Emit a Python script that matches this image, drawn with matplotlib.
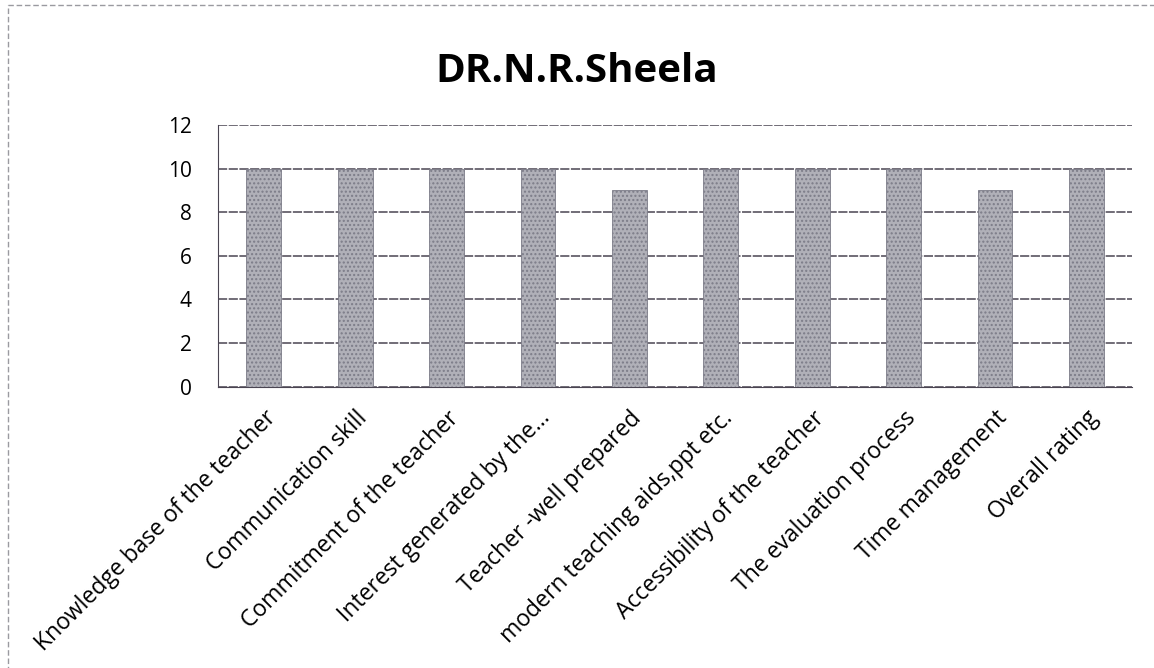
import matplotlib.pyplot as plt
import matplotlib.patches as mpatches
import numpy as np

plt.rcParams['font.family'] = ['Open Sans', 'DejaVu Sans']

categories = ["Knowledge base of the teacher", "Communication skill",
              "Commitment of the teacher", "Interest generated by the...",
              "Teacher -well prepared", "modern teaching aids,ppt etc.",
              "Accessibility of the teacher", "The evaluation process",
              "Time management", "Overall rating"]
scores = [10, 10, 10, 10, 9, 10, 10, 10, 9, 10]
yticks = [0, 2, 4, 6, 8, 10, 12]

fig = plt.figure(figsize=(11.54, 6.68), dpi=100)
ax = fig.add_axes([0.189, 0.421, 0.792, 0.392])

x = np.arange(len(categories))
ax.bar(x, scores, width=0.38, color="#b0b0b8", edgecolor="#7c7c88",
       hatch="....", linewidth=0.6, zorder=3)

ax.set_ylim(0, 12)
ax.set_xlim(-0.5, len(categories) - 0.5)
ax.set_yticks(yticks)
ax.set_yticklabels([str(v) for v in yticks], fontsize=15)
ax.yaxis.grid(True, color="#4a4552", linewidth=1.1, linestyle=(0, (6, 1)), zorder=0)
ax.set_xticks(x)
ax.set_xticklabels(categories, rotation=45, ha="right", rotation_mode="anchor", fontsize=16.5)
ax.tick_params(axis="both", length=0)
ax.tick_params(axis="x", pad=14)
ax.tick_params(axis="y", pad=19)

for s in ["top", "right"]:
    ax.spines[s].set_visible(False)
ax.spines["left"].set_color("#4a4552")
ax.spines["bottom"].set_color("#4a4552")

fig.text(0.5, 0.893, "DR.N.R.Sheela", ha="center", va="center", fontsize=29, fontweight="bold")

# outer chart border
fig.patches.append(mpatches.Rectangle((0.007, -0.05), 1.2, 1.043, transform=fig.transFigure,
                                      fill=False, edgecolor="#9a9aa0", linewidth=1,
                                      linestyle=(0, (4, 2))))

fig.savefig("out.png", dpi=100)
